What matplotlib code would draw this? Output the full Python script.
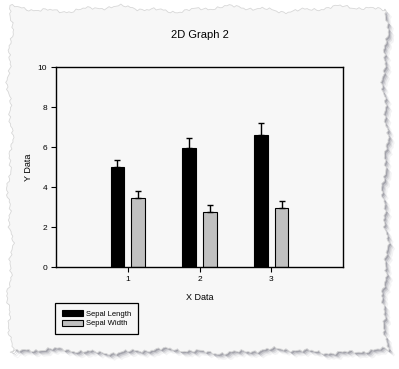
import numpy as np
import matplotlib.pyplot as plt
from matplotlib.patches import Polygon
from matplotlib.transforms import IdentityTransform

plt.rcParams['font.family'] = ['Liberation Sans', 'DejaVu Sans']

# Iris sepal data, group means and standard deviations
groups = [1, 2, 3]
sepal_length = [5.006, 5.936, 6.588]
sepal_length_sd = [0.352, 0.516, 0.636]
sepal_width = [3.428, 2.770, 2.974]
sepal_width_sd = [0.379, 0.314, 0.322]

W, H = 399, 369
fig = plt.figure(figsize=(W / 100, H / 100), dpi=100, facecolor='white')


# torn paper page behind the graph (pixel coords, origin bottom left)
def jag(n, a, b, c):
    i = np.arange(n)
    return (a * np.sin(i * 2.3) + 0.8 * a * np.sin(i * 1.37 + 0.5)
            + b * np.sin(i * 0.41 + 1.0) + c * np.sin(i * 0.13 + 2.0))


def page_outline(x0, y0, x1, y1):
    nx, ny = 160, 150
    top = np.column_stack([np.linspace(x0, x1, nx), y1 + jag(nx, 0.8, 1.5, 2.2)])
    right = np.column_stack([x1 + jag(ny, 0.8, 1.4, 2.0)[::-1], np.linspace(y1, y0, ny)])
    bottom = np.column_stack([np.linspace(x1, x0, nx), y0 + jag(nx, 0.9, 1.3, 1.8)])
    left = np.column_stack([x0 + jag(ny, 0.8, 1.5, 1.8), np.linspace(y0, y1, ny)])
    return np.vstack([top, right, bottom, left])


pts = page_outline(10, 18, 385, 360)
for k, a in zip([7, 5, 3.5, 2], [0.06, 0.10, 0.16, 0.25]):
    fig.patches.append(Polygon(pts + [k * 0.8, -k * 0.8], closed=True, facecolor='#404050',
                               edgecolor='none', alpha=a, transform=IdentityTransform(),
                               zorder=-3))
fig.patches.append(Polygon(pts, closed=True, facecolor='#f7f7f7', edgecolor='#d8d8d8',
                           linewidth=0.6, transform=IdentityTransform(), zorder=-2))

ax = fig.add_axes([56 / W, 1 - 267 / H, 287 / W, 200 / H])
ax.set_facecolor('none')

x = np.array(groups)
width = 0.19
off = 0.145
ax.bar(x - off, sepal_length, width, color='black', edgecolor='black', linewidth=0.8,
       label='Sepal Length')
ax.bar(x + off, sepal_width, width, color='#c0c0c0', edgecolor='black', linewidth=0.8,
       label='Sepal Width')
ax.errorbar(x - off, sepal_length, yerr=[[0] * 3, sepal_length_sd], fmt='none',
            ecolor='black', elinewidth=1, capsize=2.5, capthick=1)
ax.errorbar(x + off, sepal_width, yerr=[[0] * 3, sepal_width_sd], fmt='none',
            ecolor='black', elinewidth=1, capsize=2.5, capthick=1)

ax.set_xlim(0, 4)
ax.set_ylim(0, 10)
ax.set_xticks(groups)
ax.set_yticks(range(0, 11, 2))
ax.tick_params(direction='out', length=3.5, width=0.8, labelsize=6, pad=3)
for s in ax.spines.values():
    s.set_linewidth(1)

ax.set_title('2D Graph 2', fontsize=8, pad=21)
ax.set_xlabel('X Data', fontsize=6.5, labelpad=7)
ax.set_ylabel('Y Data', fontsize=6.5, labelpad=3)

leg = fig.legend(loc='upper left', bbox_to_anchor=(55 / W, 1 - 303 / H), fontsize=5.5,
                 frameon=True, fancybox=False, edgecolor='black', framealpha=1,
                 facecolor='#f7f7f7', handlelength=2.8, handleheight=0.9,
                 borderpad=0.9, labelspacing=0.25, handletextpad=0.4, borderaxespad=0)
leg.get_frame().set_linewidth(0.9)
leg.get_frame().set_boxstyle('square', pad=0)

fig.savefig('out.png', dpi=100, facecolor='white')
